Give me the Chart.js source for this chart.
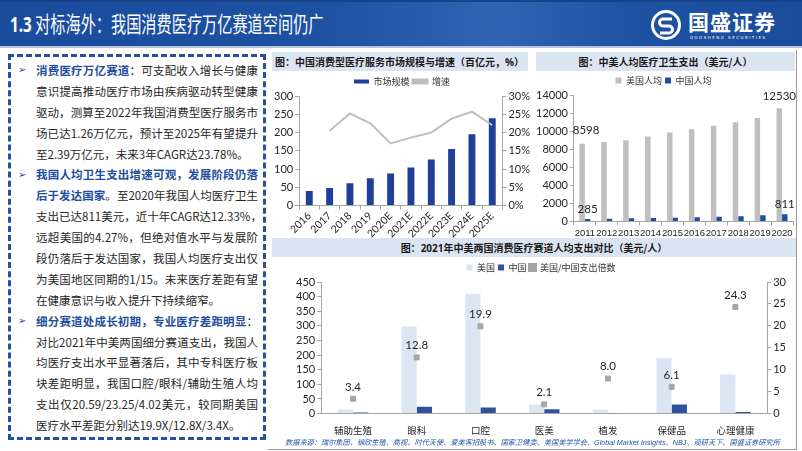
<!DOCTYPE html>
<html>
<head>
<meta charset="utf-8">
<script src="https://cdn.jsdelivr.net/npm/chart.js@4.4.1/dist/chart.umd.min.js"></script>
<style>
  body { margin: 0; width: 802px; height: 451px; position: relative; overflow: hidden; background: #fff;
         font-family: "Noto Sans CJK SC", sans-serif; }
  .header { position: absolute; left: 0; top: 0; width: 802px; height: 46px;
            background: linear-gradient(90deg, #1a4c9c 0%, #1d51a2 40%, #2f64b3 62%, #1d51a2 80%, #1a4c9c 100%);
            border-top: 2px solid #16428a; box-sizing: border-box; }
  .header-line { position: absolute; left: 0; top: 46px; width: 802px; height: 2px; background: #b8c4d8; }
  .title { position: absolute; left: 10px; top: 4px; color: #fff; font-size: 22px; white-space: nowrap;
           transform-origin: left center; transform: scaleX(0.69); }
  .title b { font-family: "Open Sans", sans-serif; font-weight: 700; }
  .logo { position: absolute; left: 650px; top: 6px; width: 140px; height: 34px; color: #fff; }
  .logo .name { position: absolute; left: 38px; top: -2px; font-size: 21px; font-weight: 700; letter-spacing: 1px; }
  .logo .en { position: absolute; left: 40px; top: 27px; font-size: 4px; letter-spacing: 1.5px; font-family: "DejaVu Sans"; }
  .box { position: absolute; left: 8px; top: 54px; width: 252px; height: 380px; border: 3px dashed #2452a3; }
  .lines { position: absolute; left: 36px; top: 60px; width: 222px; font-size: 11.5px; color: #262626; }
  .lines div { height: 20.9px; line-height: 20.9px; white-space: nowrap; text-align: justify; text-align-last: justify; }
  .lines div.last { text-align-last: left; }
  .lines b { color: #1f4e9e; font-weight: 700; }
  .bullet { position: absolute; left: 18px; font-size: 10px; color: #1f4e9e; font-family: "DejaVu Sans"; }
  .tbar { position: absolute; background: #dbe5f1; height: 19px; line-height: 19px; font-size: 10px;
          font-weight: 700; color: #1a1a1a; white-space: nowrap; }
  .tbar span { font-family: "Open Sans", sans-serif; }
  canvas { position: absolute; }
  .src { position: absolute; left: 285px; top: 437px; font-size: 7.2px; font-style: italic; color: #2452a3; white-space: nowrap; }
  .frame { position: absolute; left: 796px; top: 50px; width: 1px; height: 399px; background: #9a9a9a; }
  .frame2 { position: absolute; left: 268px; top: 449px; width: 529px; height: 1px; background: #9a9a9a; }
</style>
</head>
<body>
<div class="header">
  <div class="title"><b>1.3</b> 对标海外：我国消费医疗万亿赛道空间仍广</div>
  <div class="logo">
    <svg width="32" height="32" viewBox="0 0 32 32" style="position:absolute;left:0;top:1px">
      <circle cx="16" cy="16" r="13.5" fill="none" stroke="#fff" stroke-width="3"/>
      <path d="M22 10 H13 a3.5 3.5 0 0 0 0 7 H19 a3.5 3.5 0 0 1 0 7 H10" fill="none" stroke="#fff" stroke-width="3"/>
    </svg>
    <div class="name">国盛证券</div>
    <div class="en">GUOSHENG SECURITIES</div>
  </div>
</div>
<div class="header-line"></div>

<div class="box"></div>
<div class="bullet" style="top:64px">➢</div>
<div class="bullet" style="top:169px">➢</div>
<div class="bullet" style="top:315px">➢</div>
<div class="lines">
  <div><b>消费医疗万亿赛道</b>：可支配收入增长与健康</div>
  <div>意识提高推动医疗市场由疾病驱动转型健康</div>
  <div>驱动，测算至2022年我国消费型医疗服务市</div>
  <div>场已达1.26万亿元，预计至2025年有望提升</div>
  <div class="last">至2.39万亿元，未来3年CAGR达23.78%。</div>
  <div><b>我国人均卫生支出增速可观，发展阶段仍落</b></div>
  <div><b>后于发达国家</b>。至2020年我国人均医疗卫生</div>
  <div>支出已达811美元，近十年CAGR达12.33%，</div>
  <div>远超美国的4.27%，但绝对值水平与发展阶</div>
  <div>段仍落后于发达国家，我国人均医疗支出仅</div>
  <div>为美国地区同期的1/15。未来医疗差距有望</div>
  <div class="last">在健康意识与收入提升下持续缩窄。</div>
  <div><b>细分赛道处成长初期，专业医疗差距明显</b>：</div>
  <div>对比2021年中美两国细分赛道支出，我国人</div>
  <div>均医疗支出水平显著落后，其中专科医疗板</div>
  <div>块差距明显，我国口腔/眼科/辅助生殖人均</div>
  <div>支出仅20.59/23.25/4.02美元，较同期美国</div>
  <div class="last">医疗水平差距分别达19.9X/12.8X/3.4X。</div>
</div>

<div class="tbar" style="left:272px;top:52px;width:256px;padding-left:3px;box-sizing:border-box">图：中国消费型医疗服务市场规模与增速（百亿元，<span>%</span>）</div>
<div class="tbar" style="left:536px;top:52px;width:259px;text-align:center">图：中美人均医疗卫生支出（美元/人）</div>
<div class="tbar" style="left:272px;top:238px;width:524px;text-align:center">图：<span>2021</span>年中美两国消费医疗赛道人均支出对比（美元/人）</div>

<canvas id="c1" width="262" height="166" style="left:272px;top:74px"></canvas>
<canvas id="c2" width="262" height="168" style="left:534px;top:73px"></canvas>
<canvas id="c3" width="524" height="179" style="left:272px;top:260px"></canvas>

<div class="src">数据来源：瑞尔集团、锦欣生殖、高视、时代天使、爱美客招股书、国家卫健委、美国美学学会、<span style="font-family:'Liberation Sans'">Global Market Insights</span>、<span style="font-family:'Liberation Sans'">NBJ</span>、观研天下、国盛证券研究所</div>
<div class="frame"></div>
<div class="frame2"></div>

<script>
// 图1：市场规模（百亿元）与增速（%）
const years1 = ['2016', '2017', '2018', '2019', '2020E', '2021E', '2022E', '2023E', '2024E', '2025E'];
const marketSize = [40, 48, 61, 75, 88, 104, 126, 155, 195, 239];
const growthRate = [null, 20.5, 25.2, 22.5, 17.0, 18.6, 20.0, 23.8, 25.7, 22.0];

// 图2：人均医疗卫生支出（美元/人）
const years2 = ['2011', '2012', '2013', '2014', '2015', '2016', '2017', '2018', '2019', '2020'];
const usPerCapita = [8598, 8800, 9000, 9400, 9850, 10200, 10600, 11000, 11450, 12530];
const cnPerCapita = [285, 320, 360, 400, 430, 480, 530, 600, 700, 811];

// 图3：细分赛道人均支出（美元/人）与倍数
const segments = ['辅助生殖', '眼科', '口腔', '医美', '植发', '保健品', '心理健康'];
const usSegment = [13.7, 297.6, 409.7, 31.5, 12.8, 189.1, 133.7];
const cnSegment = [4.02, 23.25, 20.59, 15.0, 1.6, 31.0, 5.5];
const ratio = [3.4, 12.8, 19.9, 2.1, 8.0, 6.1, 24.3];

const numFont = "Lato, 'Noto Sans CJK SC', sans-serif";
const cjkFont = "'Noto Sans CJK SC', sans-serif";
const axisColor = '#a6a6a6';

// 画指定点的数值标签
const valueLabels = {
  id: 'valueLabels',
  afterDatasetsDraw(chart, args, opts) {
    const ctx = chart.ctx;
    (opts.items || []).forEach(it => {
      const meta = chart.getDatasetMeta(it.ds);
      const ds = chart.data.datasets[it.ds];
      it.idx.forEach(i => {
        const el = meta.data[i];
        if (!el) return;
        const v = ds.data[i];
        ctx.save();
        ctx.font = '11.5px ' + numFont;
        ctx.fillStyle = '#262626';
        ctx.textAlign = 'center';
        ctx.textBaseline = 'bottom';
        ctx.fillText(it.fmt ? it.fmt(v) : String(v), el.x + (it.dx || 0), el.y - (it.dy || 4));
        ctx.restore();
      });
    });
  }
};

function yScale(min, max, step, pos, cb) {
  return {
    position: pos, min: min, max: max,
    border: { color: axisColor },
    grid: { display: true, drawOnChartArea: false, drawTicks: true, tickLength: 4, color: axisColor },
    ticks: { stepSize: step, autoSkip: false, color: '#262626', font: { family: numFont, size: 11 }, padding: 2, callback: cb }
  };
}

const base = { responsive: false, maintainAspectRatio: false, animation: false, devicePixelRatio: 1 };

new Chart(document.getElementById('c1'), {
  type: 'bar',
  data: {
    labels: years1,
    datasets: [{
      label: '市场规模',
      data: marketSize,
      backgroundColor: '#1f3f98',
      barPercentage: 0.34,
      categoryPercentage: 1,
      order: 1,
      yAxisID: 'y'
    }, {
      type: 'line',
      label: '增速',
      data: growthRate,
      borderColor: '#bfbfbf',
      backgroundColor: '#bfbfbf',
      borderWidth: 2,
      pointRadius: 0,
      tension: 0,
      order: 0,
      yAxisID: 'y1'
    }]
  },
  options: Object.assign({}, base, {
    layout: { padding: { right: 2 } },
    plugins: {
      legend: {
        labels: { boxWidth: 15, boxHeight: 4, padding: 3, color: '#333', font: { family: cjkFont, size: 9 },
                  sort: (a, b) => a.datasetIndex - b.datasetIndex }
      },
      tooltip: { enabled: false }
    },
    scales: {
      x: {
        border: { color: axisColor },
        grid: { display: true, drawOnChartArea: false, tickLength: 4, color: axisColor, offset: true },
        ticks: { maxRotation: 45, minRotation: 45, autoSkip: false, color: '#262626', font: { family: numFont, size: 10.5 }, padding: 0 }
      },
      y: yScale(0, 300, 50, 'left'),
      y1: yScale(0, 30, 5, 'right', v => v + '%')
    }
  }),
  plugins: [valueLabels]
});

new Chart(document.getElementById('c2'), {
  type: 'bar',
  data: {
    labels: years2,
    datasets: [{
      label: '美国人均',
      data: usPerCapita,
      backgroundColor: '#bfbfbf',
      barPercentage: 1,
      categoryPercentage: 0.5
    }, {
      label: '中国人均',
      data: cnPerCapita,
      backgroundColor: '#1f4e9e',
      barPercentage: 1,
      categoryPercentage: 0.5
    }]
  },
  options: Object.assign({}, base, {
    layout: { padding: { right: 3 } },
    plugins: {
      legend: {
        labels: { boxWidth: 6, boxHeight: 6, padding: 3, color: '#333', font: { family: cjkFont, size: 9 } }
      },
      tooltip: { enabled: false },
      valueLabels: {
        items: [
          { ds: 0, idx: [0], dy: 8, dx: 4 },
          { ds: 0, idx: [9], dy: 6 },
          { ds: 1, idx: [0, 9], dy: 4 }
        ]
      }
    },
    scales: {
      x: {
        border: { color: axisColor },
        grid: { display: true, drawOnChartArea: false, tickLength: 4, color: axisColor, offset: true },
        ticks: { maxRotation: 0, minRotation: 0, autoSkip: false, color: '#262626',
                 font: { family: "'Liberation Sans', sans-serif", size: 9.5 }, padding: 2 }
      },
      y: yScale(0, 14000, 2000, 'left')
    }
  }),
  plugins: [valueLabels]
});

new Chart(document.getElementById('c3'), {
  type: 'bar',
  data: {
    labels: segments,
    datasets: [{
      label: '美国',
      data: usSegment,
      backgroundColor: '#dce6f2',
      barPercentage: 1,
      categoryPercentage: 0.48,
      yAxisID: 'y',
      order: 1
    }, {
      label: '中国',
      data: cnSegment,
      backgroundColor: '#2d53a0',
      barPercentage: 1,
      categoryPercentage: 0.48,
      yAxisID: 'y',
      order: 2
    }, {
      type: 'line',
      label: '美国/中国支出倍数',
      data: ratio,
      showLine: false,
      pointStyle: 'rect',
      pointRadius: 3.5,
      backgroundColor: '#a6a6a6',
      borderColor: '#a6a6a6',
      yAxisID: 'y1',
      order: 0
    }]
  },
  options: Object.assign({}, base, {
    layout: { padding: { left: 22, right: 8 } },
    plugins: {
      legend: {
        labels: { boxWidth: 6, boxHeight: 6, padding: 3, color: '#333', font: { family: cjkFont, size: 9 },
                  sort: (a, b) => a.datasetIndex - b.datasetIndex }
      },
      tooltip: { enabled: false },
      valueLabels: {
        items: [{ ds: 2, idx: [0, 1, 2, 3, 4, 5, 6], dy: 6, fmt: v => v.toFixed(1) }]
      }
    },
    scales: {
      x: {
        border: { color: axisColor },
        grid: { display: false },
        ticks: { color: '#262626', font: { family: cjkFont, size: 9.5 }, padding: 3 }
      },
      y: yScale(0, 450, 50, 'left'),
      y1: yScale(0, 30, 5, 'right')
    }
  }),
  plugins: [valueLabels]
});
</script>
</body>
</html>
